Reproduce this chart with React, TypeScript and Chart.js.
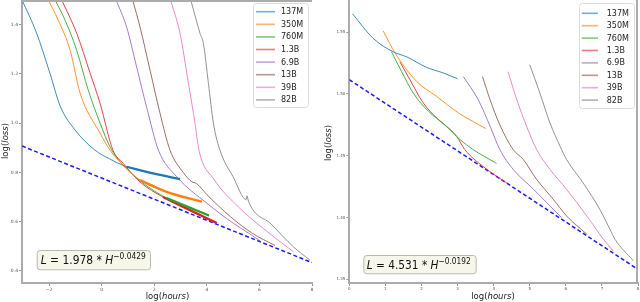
import React, { useEffect, useRef } from "react";
import { Chart, registerables } from "chart.js";
Chart.register(...registerables);

const FONT = "'DejaVu Sans', sans-serif";

type Pt = [number, number];

const seriesNames = ["137M", "350M", "760M", "1.3B", "6.9B", "13B", "39B", "82B"];
const seriesColors = ["#1f77b4", "#ff7f0e", "#2ca02c", "#d62728", "#9467bd", "#8c564b", "#e377c2", "#7f7f7f"];

// ---------- Left panel ----------
const leftXTicks = [-2, 0, 2, 4, 6, 8];
const leftYTicks = [0.4, 0.6, 0.8, 1.0, 1.2, 1.4];
const leftXRange = [-3.03, 8];
const leftYRange = [0.351, 1.5];

const left137M: Pt[] = [[-3.03, 1.5], [-2.49, 1.37], [-1.96, 1.2], [-1.58, 1.07], [-1.01, 0.972], [-0.25, 0.89], [0.3, 0.855], [0.95, 0.823], [2.0, 0.795], [2.98, 0.773]];
const left350M: Pt[] = [[-2.03, 1.5], [-1.65, 1.418], [-1.2, 1.296], [-0.82, 1.122], [-0.06, 0.959], [0.32, 0.89], [0.81, 0.83], [1.46, 0.769], [2.47, 0.721], [3.81, 0.681]];
const left760M: Pt[] = [[-1.77, 1.5], [-1.39, 1.418], [-0.95, 1.296], [-0.51, 1.134], [-0.06, 1.0], [0.32, 0.903], [0.81, 0.83], [1.57, 0.757], [2.47, 0.696], [4.08, 0.625]];
const left1_3B: Pt[] = [[-1.52, 1.5], [-0.95, 1.365], [-0.44, 1.203], [-0.06, 1.08], [0.43, 0.89], [0.81, 0.838], [1.46, 0.761], [2.33, 0.7], [4.38, 0.594]];
const left6_9B: Pt[] = [[0.55, 1.5], [0.95, 1.39], [1.33, 1.228], [1.71, 1.065], [2.16, 0.89], [2.86, 0.782], [4.0, 0.675], [5.0, 0.594], [5.64, 0.55], [6.05, 0.52]];
const left13B: Pt[] = [[1.18, 1.5], [1.46, 1.39], [1.84, 1.215], [2.22, 1.04], [2.6, 0.89], [3.1, 0.8], [3.43, 0.762], [3.61, 0.755], [4.0, 0.71], [4.9, 0.62], [5.7, 0.555], [6.59, 0.503]];
const left39B: Pt[] = [[2.62, 1.5], [2.98, 1.365], [3.3, 1.162], [3.55, 1.0], [3.7, 0.89], [4.25, 0.775], [5.2, 0.66], [6.15, 0.572], [7.29, 0.478]];
const left82B: Pt[] = [[3.39, 1.5], [3.74, 1.365], [3.87, 1.323], [4.06, 1.162], [4.25, 1.0], [4.5, 0.89], [5.0, 0.782], [5.5, 0.69], [5.53, 0.705], [5.58, 0.684], [6.45, 0.59], [7.29, 0.498], [7.92, 0.444]];
const leftTailStart = [0.95, 1.46, 2.47, 2.33];
const leftFitLine: Pt[] = [[-3.03, 0.907], [8, 0.434]];
const leftFormula = { coef: "1.978", exp: "−0.0429" };

// ---------- Right panel ----------
const rightXTicks = [0, 1, 2, 3, 4, 5, 6, 7, 8];
const rightYTicks = [1.35, 1.4, 1.45, 1.5, 1.55];
const rightXRange = [0, 8];
const rightYRange = [1.347, 1.576];

const right137M: Pt[] = [[0.09, 1.5648], [0.66, 1.545], [1.22, 1.534], [1.59, 1.53], [2.14, 1.5215], [2.6, 1.517], [3.0, 1.5123]];
const right350M: Pt[] = [[0.94, 1.551], [1.27, 1.533], [1.87, 1.51], [2.42, 1.498], [3.02, 1.4847], [3.78, 1.472]];
const right760M: Pt[] = [[1.17, 1.534], [1.45, 1.518], [1.77, 1.5008], [2.19, 1.486], [2.65, 1.475], [3.07, 1.463], [3.43, 1.455], [4.08, 1.4438]];
const right1_3B: Pt[] = [[1.4, 1.526], [1.68, 1.5115], [2.05, 1.4927], [2.42, 1.4806], [2.97, 1.4658], [3.2, 1.455], [3.81, 1.439], [4.36, 1.428]];
const right6_9B: Pt[] = [[3.16, 1.514], [3.57, 1.4954], [3.9, 1.474], [4.17, 1.455], [4.54, 1.439], [5.1, 1.423], [5.65, 1.4067], [5.88, 1.4]];
const right13B: Pt[] = [[3.69, 1.514], [3.9, 1.4954], [4.17, 1.475], [4.54, 1.455], [4.82, 1.447], [5.19, 1.4309], [5.65, 1.4148], [6.02, 1.4013], [6.58, 1.3865]];
const right39B: Pt[] = [[4.4, 1.518], [4.64, 1.4954], [4.91, 1.474], [5.19, 1.455], [5.56, 1.439], [6.02, 1.4228], [6.58, 1.4013], [7.04, 1.3825], [7.31, 1.373]];
const right82B: Pt[] = [[5.0, 1.5236], [5.28, 1.5008], [5.56, 1.4766], [5.84, 1.4577], [6.02, 1.447], [6.48, 1.428], [6.94, 1.4067], [7.22, 1.3906], [7.36, 1.3825], [7.87, 1.365]];
const rightFitLine: Pt[] = [[0, 1.5115], [8, 1.358]];
const rightFormula = { coef: "4.531", exp: "−0.0192" };

function rgba(hex: string, a: number) {
  const n = parseInt(hex.slice(1), 16);
  return `rgba(${n >> 16},${(n >> 8) & 255},${n & 255},${a})`;
}

type Part = { t: string; italic?: boolean; sup?: boolean };

function measureParts(ctx: CanvasRenderingContext2D, parts: Part[], size: number) {
  let total = 0;
  parts.forEach((p) => {
    ctx.font = `${p.italic ? "italic " : ""}${p.sup ? size * 0.7 : size}px ${FONT}`;
    total += ctx.measureText(p.t).width;
  });
  return total;
}

function drawParts(ctx: CanvasRenderingContext2D, parts: Part[], x: number, y: number, size: number, align: "left" | "center") {
  const fontOf = (p: Part) => `${p.italic ? "italic " : ""}${p.sup ? size * 0.7 : size}px ${FONT}`;
  const total = measureParts(ctx, parts, size);
  let cx = align === "center" ? x - total / 2 : x;
  ctx.textAlign = "left";
  parts.forEach((p) => {
    ctx.font = fontOf(p);
    ctx.fillText(p.t, cx, p.sup ? y - size * 0.42 : y);
    cx += ctx.measureText(p.t).width;
  });
  return total;
}

function roundRect(ctx: CanvasRenderingContext2D, x: number, y: number, w: number, h: number, r: number) {
  ctx.beginPath();
  ctx.moveTo(x + r, y);
  ctx.lineTo(x + w - r, y);
  ctx.quadraticCurveTo(x + w, y, x + w, y + r);
  ctx.lineTo(x + w, y + h - r);
  ctx.quadraticCurveTo(x + w, y + h, x + w - r, y + h);
  ctx.lineTo(x + r, y + h);
  ctx.quadraticCurveTo(x, y + h, x, y + h - r);
  ctx.lineTo(x, y + r);
  ctx.quadraticCurveTo(x, y, x + r, y);
  ctx.closePath();
}

type Layout = {
  yAxisWidth: number;
  padRight: number;
  legend: { x: number; y: number; w: number; h: number; row0: number; rowStep: number; sw0: number; sw1: number; tx: number };
  box: { x: number; y: number; w: number; h: number; tx: number; tw: number; size: number };
  yTitle: { x: number; y: number };
  xTitle: { x: number; y: number };
  topSpine: boolean;
  rightSpine: boolean;
  tickFont: number;
};

type Panel = {
  series: Pt[][];
  tails: (number | null)[];
  fit: Pt[];
  formula: { coef: string; exp: string };
  xTicks: number[];
  yTicks: number[];
  xRange: number[];
  yRange: number[];
  xFmt: (v: number) => string;
  yFmt: (v: number) => string;
  layout: Layout;
};

const leftPanel: Panel = {
  series: [left137M, left350M, left760M, left1_3B, left6_9B, left13B, left39B, left82B],
  tails: [...leftTailStart, null, null, null, null],
  fit: leftFitLine,
  formula: leftFormula,
  xTicks: leftXTicks,
  yTicks: leftYTicks,
  xRange: leftXRange,
  yRange: leftYRange,
  xFmt: (v) => (v < 0 ? "−" + Math.abs(v) : String(v)),
  yFmt: (v) => v.toFixed(1),
  layout: {
    yAxisWidth: 22,
    padRight: 8,
    legend: { x: 253, y: 3, w: 55, h: 104, row0: 11.7, rowStep: 12.6, sw0: 256, sw1: 275, tx: 281 },
    box: { x: 36.7, y: 250, w: 113.3, h: 19.3, tx: 40.7, tw: 105, size: 13 },
    yTitle: { x: 6, y: 141 },
    xTitle: { x: 167.5, y: 296.5 },
    topSpine: true,
    rightSpine: false,
    tickFont: 4.5,
  },
};

const rightPanel: Panel = {
  series: [right137M, right350M, right760M, right1_3B, right6_9B, right13B, right39B, right82B],
  tails: [null, null, null, null, null, null, null, null],
  fit: rightFitLine,
  formula: rightFormula,
  xTicks: rightXTicks,
  yTicks: rightYTicks,
  xRange: rightXRange,
  yRange: rightYRange,
  xFmt: (v) => String(v),
  yFmt: (v) => v.toFixed(2),
  layout: {
    yAxisWidth: 29.3,
    padRight: 2,
    legend: { x: 259, y: 3, w: 55, h: 105, row0: 13.3, rowStep: 12.4, sw0: 261.7, sw1: 278, tx: 286.7 },
    box: { x: 43.3, y: 255, w: 112.4, h: 18.3, tx: 46.7, tw: 104, size: 12.5 },
    yTitle: { x: 8.5, y: 143 },
    xTitle: { x: 173, y: 296.5 },
    topSpine: false,
    rightSpine: true,
    tickFont: 4,
  },
};

function makeDecorations(panel: Panel) {
  const L = panel.layout;
  return {
    id: "decorations",
    afterDraw(chart: any) {
      const ctx: CanvasRenderingContext2D = chart.ctx;
      const area = chart.chartArea;
      ctx.save();
      // extra spines
      ctx.strokeStyle = "#ababab";
      ctx.lineWidth = 2;
      if (L.topSpine) {
        ctx.beginPath();
        ctx.moveTo(area.left, 1);
        ctx.lineTo(area.right, 1);
        ctx.stroke();
      }
      if (L.rightSpine) {
        ctx.beginPath();
        ctx.moveTo(area.right - 1, 0);
        ctx.lineTo(area.right - 1, area.bottom);
        ctx.stroke();
      }
      // legend
      const lg = L.legend;
      roundRect(ctx, lg.x + 0.5, lg.y + 0.5, lg.w, lg.h, 3);
      ctx.fillStyle = "rgba(255,255,255,0.85)";
      ctx.fill();
      ctx.strokeStyle = "#dcdcdc";
      ctx.lineWidth = 1;
      ctx.stroke();
      ctx.textBaseline = "middle";
      seriesNames.forEach((name, i) => {
        const yy = lg.row0 + i * lg.rowStep;
        ctx.strokeStyle = rgba(seriesColors[i], 0.6);
        ctx.lineWidth = 1.6;
        ctx.beginPath();
        ctx.moveTo(lg.sw0, yy);
        ctx.lineTo(lg.sw1, yy);
        ctx.stroke();
        ctx.fillStyle = "#222";
        ctx.font = `8px ${FONT}`;
        ctx.textAlign = "left";
        ctx.fillText(name, lg.tx, yy + 0.5);
      });
      // formula box
      const b = L.box;
      roundRect(ctx, b.x + 0.5, b.y + 0.5, b.w, b.h, 3);
      ctx.fillStyle = "#f7f6ea";
      ctx.fill();
      ctx.strokeStyle = "#b9b9ae";
      ctx.lineWidth = 1;
      ctx.stroke();
      const parts: Part[] = [
        { t: "L", italic: true },
        { t: " = " + panel.formula.coef + " * " },
        { t: "H", italic: true },
        { t: panel.formula.exp, sup: true },
      ];
      ctx.textBaseline = "alphabetic";
      const natural = measureParts(ctx, parts, b.size);
      const sx = b.tw / natural;
      ctx.save();
      ctx.translate(b.tx, b.y + b.h / 2 + b.size * 0.37);
      ctx.scale(sx, 1);
      ctx.fillStyle = "#111";
      drawParts(ctx, parts, 0, 0, b.size, "left");
      ctx.restore();
      // axis titles
      ctx.fillStyle = "#222";
      ctx.textBaseline = "middle";
      drawParts(ctx, [{ t: "log(" }, { t: "hours", italic: true }, { t: ")" }], L.xTitle.x, L.xTitle.y, 8.5, "center");
      ctx.translate(L.yTitle.x, L.yTitle.y);
      ctx.rotate(-Math.PI / 2);
      drawParts(ctx, [{ t: "log(" }, { t: "loss", italic: true }, { t: ")" }], 0, 0, 8.5, "center");
      ctx.restore();
    },
  };
}

function makeConfig(panel: Panel): any {
  const L = panel.layout;
  const toXY = (p: Pt) => ({ x: p[0], y: p[1] });
  const common = { pointRadius: 0, fill: false, cubicInterpolationMode: "monotone" as const };
  const datasets: any[] = [];
  panel.series.forEach((pts, i) => {
    const t = panel.tails[i];
    if (t !== null && t !== undefined) {
      datasets.push({ ...common, data: pts.filter((p) => p[0] >= t).map(toXY), borderColor: seriesColors[i], borderWidth: 2.3 });
    }
  });
  panel.series.forEach((pts, i) => {
    datasets.push({ ...common, data: pts.map(toXY), borderColor: rgba(seriesColors[i], 0.85), borderWidth: 1 });
  });
  datasets.push({ pointRadius: 0, fill: false, data: panel.fit.map(toXY), borderColor: "#1a1aff", borderWidth: 1.5, borderDash: [4, 2.5] });

  const tickCommon = (fmt: (v: number) => string) => ({
    font: { size: L.tickFont, family: FONT },
    color: "#555",
    padding: 1,
    autoSkip: false,
    maxRotation: 0,
    callback: (v: any) => fmt(Number(v)),
  });
  const grid = { display: true, drawOnChartArea: false, drawTicks: true, tickLength: 3, color: "#777", tickWidth: 0.8 };
  const border = { display: true, color: "#ababab", width: 2 };

  return {
    type: "line",
    data: { datasets },
    options: {
      responsive: false,
      maintainAspectRatio: false,
      animation: false,
      events: [],
      layout: { padding: { left: 0, right: L.padRight, top: 0, bottom: 0 } },
      plugins: { legend: { display: false }, tooltip: { enabled: false }, title: { display: false } },
      scales: {
        x: {
          type: "linear",
          min: panel.xRange[0],
          max: panel.xRange[1],
          afterBuildTicks: (s: any) => {
            s.ticks = panel.xTicks.map((v) => ({ value: v }));
          },
          afterFit: (s: any) => {
            s.height = 19;
            s.paddingLeft = 0;
            s.paddingRight = 0;
          },
          ticks: tickCommon(panel.xFmt),
          grid,
          border,
        },
        y: {
          type: "linear",
          min: panel.yRange[0],
          max: panel.yRange[1],
          afterBuildTicks: (s: any) => {
            s.ticks = panel.yTicks.map((v) => ({ value: v }));
          },
          afterFit: (s: any) => {
            s.width = L.yAxisWidth;
            s.paddingTop = 0;
            s.paddingBottom = 0;
          },
          ticks: tickCommon(panel.yFmt),
          grid,
          border,
        },
      },
    },
    plugins: [makeDecorations(panel)],
  };
}

function PanelChart({ panel, left }: { panel: Panel; left: number }) {
  const ref = useRef<HTMLCanvasElement | null>(null);
  useEffect(() => {
    if (!ref.current) return;
    const chart = new Chart(ref.current, makeConfig(panel));
    return () => chart.destroy();
  }, [panel]);
  return (
    <canvas
      ref={ref}
      width={320}
      height={302}
      style={{ position: "absolute", left, top: 0, width: 320, height: 302 }}
    />
  );
}

export default function App() {
  return (
    <div style={{ position: "absolute", left: 0, top: 0, width: 640, height: 302, background: "#fff", overflow: "hidden" }}>
      <PanelChart panel={leftPanel} left={0} />
      <PanelChart panel={rightPanel} left={320} />
    </div>
  );
}
